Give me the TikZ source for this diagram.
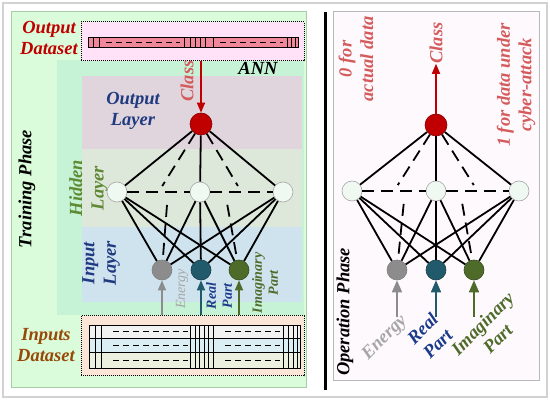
\documentclass[tikz,border=0pt]{standalone}
\usepackage{fontspec}
\setmainfont{Liberation Serif}
\usepackage{xcolor}
\usepackage{tikz}
\usetikzlibrary{arrows.meta,positioning,calc}

\definecolor{panelgreen}{HTML}{DAFCDA}
\definecolor{panelborder}{HTML}{A9CDA9}
\definecolor{anngreen}{HTML}{C6F2D6}
\definecolor{outband}{HTML}{E0D5DC}
\definecolor{hidband}{HTML}{DDE7DA}
\definecolor{inband}{HTML}{CFE3EE}
\definecolor{outsetfill}{HTML}{FFE1F8}
\definecolor{outbar}{HTML}{F0879A}
\definecolor{insetfill}{HTML}{FBE5D6}
\definecolor{rowa}{HTML}{F2F2F2}
\definecolor{rowb}{HTML}{DBEEF4}
\definecolor{rowc}{HTML}{EBF1DE}
\definecolor{oppanel}{HTML}{FEF9FD}
\definecolor{darkred}{HTML}{C00000}
\definecolor{lightred}{HTML}{D45B5B}
\definecolor{dsbrown}{HTML}{984807}
\definecolor{layerblue}{HTML}{1F3A80}
\definecolor{hidolive}{HTML}{5E8A34}
\definecolor{hidfill}{HTML}{EFF8F1}
\definecolor{energygray}{HTML}{8C8C8C}
\definecolor{energytxt}{HTML}{A6A6A6}
\definecolor{realteal}{HTML}{215A6B}
\definecolor{realtxt}{HTML}{1A3A8A}
\definecolor{imagolive}{HTML}{4F6B2A}

\begin{document}
\begin{tikzpicture}[
  x=1pt, y=-1pt,
  bigtxt/.style={font=\fontsize{18.5}{21.5}\selectfont\bfseries\itshape, align=center, inner sep=0pt},
  smalltxt/.style={font=\fontsize{14}{16}\selectfont\bfseries\itshape, align=center, inner sep=0pt},
  neuron/.style={circle, draw, minimum size=20pt, inner sep=0pt, line width=0.6pt},
  hid/.style={neuron, draw=gray!70, fill=hidfill},
  wire/.style={line width=1.8pt},
  ghost/.style={wire, dash pattern=on 12pt off 7pt},
  feed/.style={-{Triangle[length=10pt,width=8pt]}, line width=1.6pt},
  dotbox/.style={draw, densely dotted, line width=1pt, inner sep=0pt},
  grid/.style={line width=0.9pt}
]

\useasboundingbox (0,0) rectangle (550,401);
\draw[gray!35, line width=1.5pt, fill=white] (3,3) rectangle (547,397);

% training phase
\draw[panelborder, fill=panelgreen, line width=1pt] (11,12) rectangle (306,388);
\fill[anngreen] (57,60) rectangle (304,315);
\fill[outband] (82,76) rectangle (302,149);
\fill[hidband] (82,149) rectangle (302,227);
\fill[inband] (82,227) rectangle (302,302);

\node[dotbox, fill=outsetfill, minimum width=223pt, minimum height=39pt] (outdata) at (192.5,41.5) {};
\draw[grid, fill=outbar] (88,37) rectangle (298,47);
\draw[grid] (93,37) -- (93,47) (99,37) -- (99,47)
  (184,37) -- (184,47) (190,37) -- (190,47) (195,37) -- (195,47)
  (200,37) -- (200,47) (205,37) -- (205,47) (213,37) -- (213,47)
  (287,37) -- (287,47) (291,37) -- (291,47) (295,37) -- (295,47);
\draw[grid, dash pattern=on 6pt off 4pt] (106,42) -- (180,42) (220,42) -- (283,42);

\node[dotbox, fill=insetfill, minimum width=223pt, minimum height=60pt] (indata) at (192.5,346) {};
\fill[rowa] (89,325) rectangle (300,338);
\fill[rowb] (89,338) rectangle (300,352);
\fill[rowc] (89,352) rectangle (300,368);
\draw[grid] (89,325) rectangle (300,368) (89,338) -- (300,338) (89,352) -- (300,352);
\draw[grid] (95,325) -- (95,368) (101,325) -- (101,368)
  (190,325) -- (190,368) (195,325) -- (195,368) (199,325) -- (199,368)
  (204,325) -- (204,368) (208,325) -- (208,368) (213,325) -- (213,368)
  (283,325) -- (283,368) (288,325) -- (288,368) (293,325) -- (293,368) (297,325) -- (297,368);
\draw[grid, dash pattern=on 6pt off 4pt] (113,331.5) -- (188,331.5) (225,331.5) -- (280,331.5)
  (113,345) -- (188,345) (225,345) -- (280,345)
  (113,360) -- (188,360) (225,360) -- (280,360);

\node[bigtxt, text=darkred] (outlbl) at (49,38) {Output\\Dataset};
\node[bigtxt, text=dsbrown] (inlbl) at (46,345) {Inputs\\Dataset};
\node[bigtxt, rotate=90] (trainlbl) at (27,189) {Training Phase};
\node[bigtxt] (annlbl) at (258,68) {ANN};
\node[bigtxt, text=layerblue] (outlayer) at (133,111) {Output\\Layer};
\node[bigtxt, text=hidolive, rotate=90] (hidlayer) at (88.5,188) {Hidden\\Layer};
\node[bigtxt, text=layerblue, rotate=90] (inlayer) at (101,263) {Input\\Layer};
\node[bigtxt, text=lightred, rotate=90] (classl) at (187,81) {Class};

\node[neuron, fill=darkred, draw=darkred!70!black, minimum size=22pt] (out) at (201,124) {};
\node[hid] (h1) at (117,192) {};
\node[hid] (h2) at (200,192) {};
\node[hid] (h3) at (283,192) {};
\node[neuron, fill=energygray, draw=gray] (i1) at (162,270) {};
\node[neuron, fill=realteal, draw=realteal!70!black] (i2) at (201,270) {};
\node[neuron, fill=imagolive, draw=imagolive!70!black] (i3) at (239,270) {};
\coordinate (g1) at (158.5,192);
\coordinate (g2) at (241.5,192);
\coordinate (d1) at (168,192);
\coordinate (d2) at (225,192);

\draw[wire] (out) -- (h1);
\draw[wire] (out) -- (h2);
\draw[wire] (out) -- (h3);
\draw[wire] (h1) -- (i1);
\draw[wire] (h1) -- (i2);
\draw[wire] (h1) -- (i3);
\draw[wire] (h2) -- (i1);
\draw[wire] (h2) -- (i2);
\draw[wire] (h2) -- (i3);
\draw[wire] (h3) -- (i1);
\draw[wire] (h3) -- (i2);
\draw[wire] (h3) -- (i3);
\draw[ghost, shorten >=7pt] (out) -- (g1);
\draw[ghost, shorten >=7pt] (out) -- (g2);
\draw[ghost] (h1) -- (h2);
\draw[ghost] (h2) -- (h3);
\draw[ghost, shorten <=13pt] (d1) -- (i1);
\draw[ghost, shorten <=13pt] (d2) -- (i3);

\draw[feed, darkred] (out |- outdata.south) -- (out);
\draw[feed, energygray] (i1 |- indata.north) -- (i1);
\draw[feed, realteal] (i2 |- indata.north) -- (i2);
\draw[feed, imagolive] (i3 |- indata.north) -- (i3);

\node[smalltxt, text=energytxt, font=\fontsize{14}{16}\selectfont\itshape, rotate=90] (energyl) at (182,289) {Energy};
\node[smalltxt, text=realtxt, rotate=90] (reall) at (219,296) {Real\\Part};
\node[smalltxt, text=imagolive, rotate=90] (imagl) at (265,283) {Imaginary\\Part};

% operation phase
\draw[line width=3pt] (325,12) -- (325,390);
\draw[gray!55, fill=oppanel, line width=1pt] (333,12) rectangle (539,381);

\node[bigtxt, text=lightred, rotate=90] (zerolbl) at (356,59) {0 for\\actual data};
\node[bigtxt, text=lightred, rotate=90] (onelbl) at (516,85) {1 for data under\\cyber-attack};
\node[bigtxt, text=lightred, rotate=90] (classr) at (436,43) {Class};
\node[bigtxt, rotate=90] (oplbl) at (345,312) {Operation Phase};

\node[neuron, fill=darkred, draw=darkred!70!black, minimum size=22pt] (outr) at (436,125) {};
\node[hid] (h1r) at (352,191) {};
\node[hid] (h2r) at (436,191) {};
\node[hid] (h3r) at (519,191) {};
\node[neuron, fill=energygray, draw=gray] (i1r) at (397,270) {};
\node[neuron, fill=realteal, draw=realteal!70!black] (i2r) at (436,270) {};
\node[neuron, fill=imagolive, draw=imagolive!70!black] (i3r) at (474,270) {};
\coordinate (g1r) at (394,191);
\coordinate (g2r) at (477.5,191);
\coordinate (d1r) at (405,191);
\coordinate (d2r) at (460,191);
\coordinate (src1) at (397,317);
\coordinate (src2) at (436,317);
\coordinate (src3) at (474,317);

\draw[wire] (outr) -- (h1r);
\draw[wire] (outr) -- (h2r);
\draw[wire] (outr) -- (h3r);
\draw[wire] (h1r) -- (i1r);
\draw[wire] (h1r) -- (i2r);
\draw[wire] (h1r) -- (i3r);
\draw[wire] (h2r) -- (i1r);
\draw[wire] (h2r) -- (i2r);
\draw[wire] (h2r) -- (i3r);
\draw[wire] (h3r) -- (i1r);
\draw[wire] (h3r) -- (i2r);
\draw[wire] (h3r) -- (i3r);
\draw[ghost, shorten >=7pt] (outr) -- (g1r);
\draw[ghost, shorten >=7pt] (outr) -- (g2r);
\draw[ghost] (h1r) -- (h2r);
\draw[ghost] (h2r) -- (h3r);
\draw[ghost, shorten <=13pt] (d1r) -- (i1r);
\draw[ghost, shorten <=13pt] (d2r) -- (i3r);

\draw[feed, darkred] (outr) -- (classr.west);
\draw[feed, energygray, -{Triangle[length=12pt,width=10pt]}] (src1) -- (i1r);
\draw[feed, realteal, -{Triangle[length=12pt,width=10pt]}] (src2) -- (i2r);
\draw[feed, imagolive, -{Triangle[length=12pt,width=10pt]}] (src3) -- (i3r);

\node[bigtxt, text=energytxt, rotate=45] (energyr) at (385,338) {Energy};
\node[bigtxt, text=realtxt, rotate=45] (realr) at (430,336) {Real\\Part};
\node[bigtxt, text=imagolive, rotate=45] (imagr) at (490,331) {Imaginary\\Part};

\end{tikzpicture}
\end{document}
